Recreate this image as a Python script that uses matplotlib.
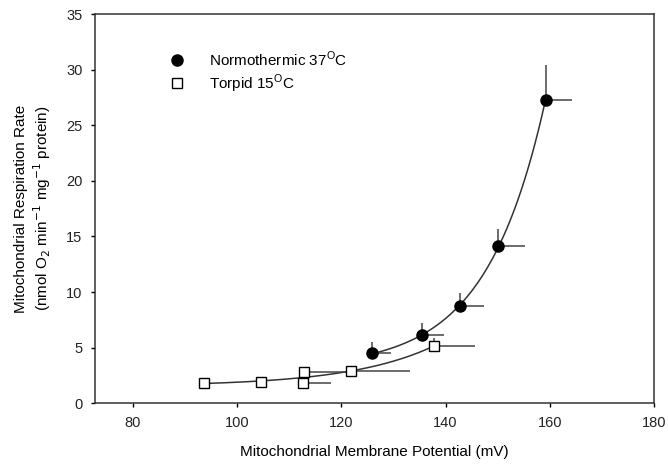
import numpy as np
import matplotlib
matplotlib.use("Agg")
import matplotlib.pyplot as plt

plt.rcParams['font.family'] = ['Liberation Sans', 'DejaVu Sans']

# Normothermic 37 C (filled circles)
norm_x = [125.9, 135.5, 142.8, 150.1, 159.2]
norm_y = [4.5, 6.15, 8.75, 14.1, 27.3]
norm_xerr = [3.6, 4.2, 4.5, 5.1, 5.1]
norm_yerr = [1.05, 1.1, 1.15, 1.6, 3.1]

# Torpid 15 C (open squares)
torp_x = [93.6, 104.5, 112.6, 112.9, 121.8, 137.8]
torp_y = [1.85, 1.9, 1.85, 2.8, 2.93, 5.15]
torp_xerr = [0.0, 0.3, 5.5, 9.0, 11.3, 7.8]
torp_yerr = [0.0, 0.4, 0.0, 0.2, 0.2, 0.7]


def fit_exp(x, y):
    # y = y0 + a*exp(b*x), b par balayage, y0 et a par moindres carres
    x = np.asarray(x)
    y = np.asarray(y)
    best = None
    for b in np.linspace(0.005, 0.3, 3000):
        A = np.column_stack([np.ones_like(x), np.exp(b * x)])
        coef, res, _, _ = np.linalg.lstsq(A, y, rcond=None)
        err = np.sum((A @ coef - y) ** 2)
        if best is None or err < best[0]:
            best = (err, coef, b)
    _, coef, b = best
    return lambda t: coef[0] + coef[1] * np.exp(b * t)


fig = plt.figure(figsize=(6.68, 4.70), dpi=100)
ax = fig.add_axes([0.142, 0.142, 0.837, 0.828])

# courbes ajustees
f_norm = fit_exp(norm_x, norm_y)
xs = np.linspace(min(norm_x), max(norm_x), 300)
ax.plot(xs, f_norm(xs), color='#333333', lw=1.1, zorder=2)
f_torp = fit_exp(torp_x, torp_y)
xs = np.linspace(min(torp_x), max(torp_x), 300)
ax.plot(xs, f_torp(xs), color='#333333', lw=1.1, zorder=2)

# barres d'erreur (cote positif seulement)
ax.errorbar(norm_x, norm_y, xerr=[np.zeros(len(norm_x)), norm_xerr],
            yerr=[np.zeros(len(norm_y)), norm_yerr], fmt='none',
            ecolor='#444444', elinewidth=1.1, capsize=0, zorder=2)
ax.errorbar(torp_x, torp_y, xerr=[np.zeros(len(torp_x)), torp_xerr],
            yerr=[np.zeros(len(torp_y)), torp_yerr], fmt='none',
            ecolor='#444444', elinewidth=1.1, capsize=0, zorder=2)

ax.plot(norm_x, norm_y, 'o', color='black', markersize=8, ls='none',
        zorder=3, label='Normothermic 37$^{\\mathregular{O}}$C')
ax.plot(torp_x, torp_y, 's', mfc='white', mec='black', mew=1.0,
        markersize=6.5, ls='none', zorder=3,
        label='Torpid 15$^{\\mathregular{O}}$C')

ax.set_xlim(72.7, 180)
ax.set_ylim(0, 35)
ax.set_xticks([80, 100, 120, 140, 160, 180])
ax.set_yticks([0, 5, 10, 15, 20, 25, 30, 35])
ax.tick_params(direction='out', length=3, width=1, labelsize=10.5, pad=6,
               labelcolor='#222222')
for s in ax.spines.values():
    s.set_linewidth(1.1)
    s.set_color('#333333')

ax.set_xlabel('Mitochondrial Membrane Potential (mV)', fontsize=11, labelpad=11)
ax.set_ylabel('Mitochondrial Respiration Rate\n'
              '(nmol O$_2$ min$^{-1}$ mg$^{-1}$ protein)', fontsize=11,
              labelpad=9, linespacing=1.25)

ax.legend(loc='upper left', bbox_to_anchor=(0.095, 0.945), frameon=False,
          fontsize=11, handletextpad=1.1, labelspacing=0.25, numpoints=1)

plt.savefig('out.png', dpi=100)
